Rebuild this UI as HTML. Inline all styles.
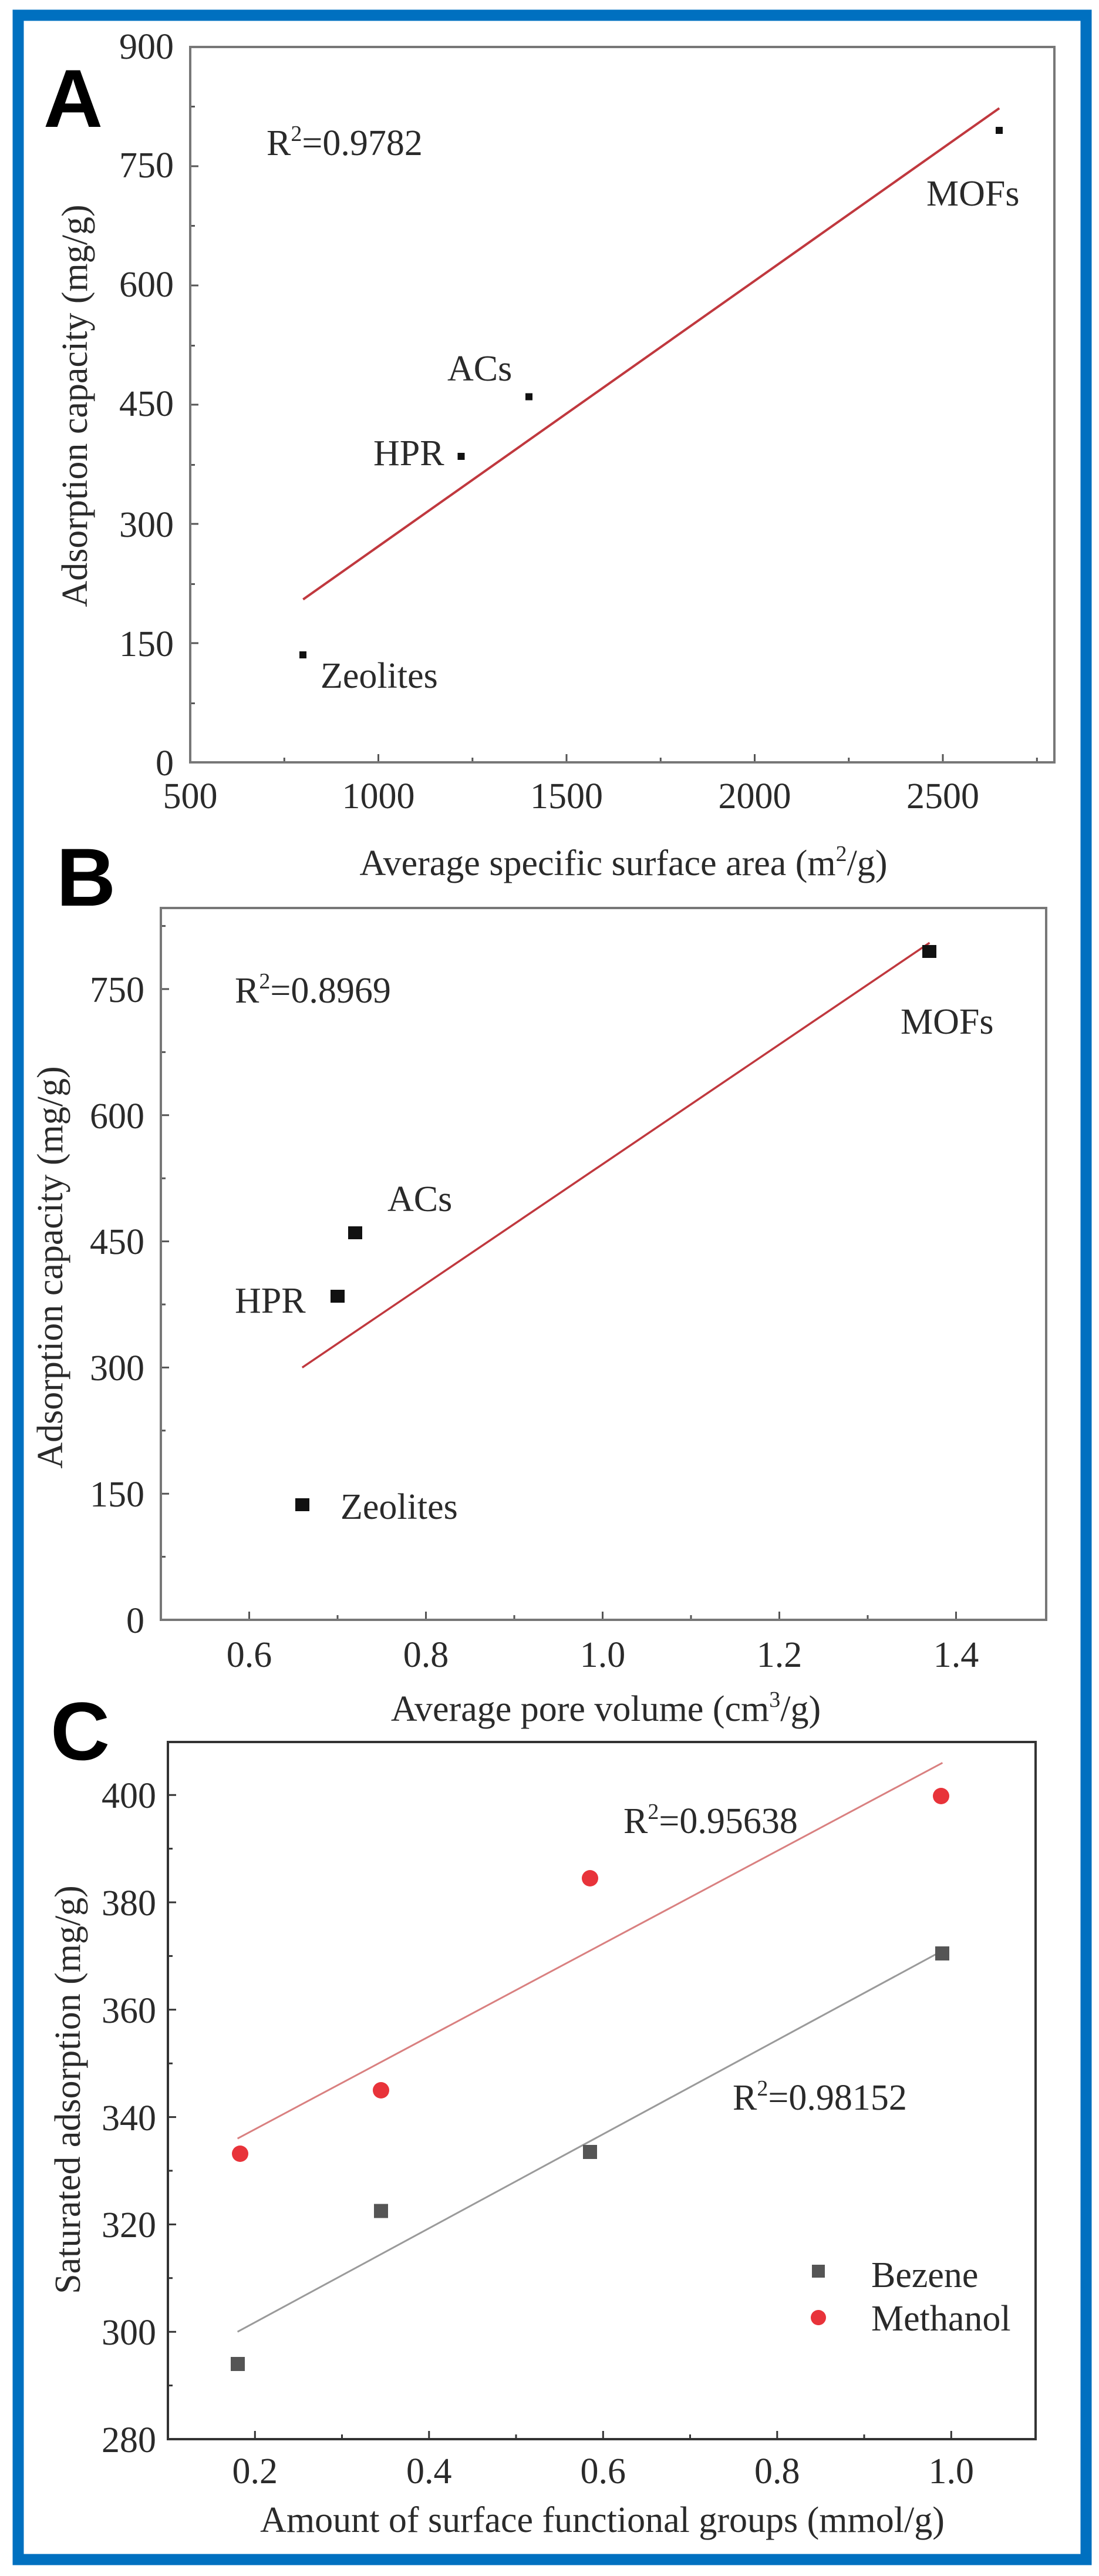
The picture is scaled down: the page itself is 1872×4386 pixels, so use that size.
<!DOCTYPE html>
<html><head><meta charset="utf-8"><style>
html,body{margin:0;padding:0;background:#fff}
svg{display:block}
text{font-family:"Liberation Serif",serif;fill:#2a2a2a}
.t{font-size:62px}
.big{font-family:"Liberation Sans",sans-serif;font-weight:bold;font-size:140px;fill:#000}
</style></head><body>
<svg width="1872" height="4386" viewBox="0 0 1872 4386" xmlns="http://www.w3.org/2000/svg">
<rect x="0" y="0" width="1872" height="4386" fill="#fff"/>
<rect x="31" y="26" width="1819" height="4332" fill="none" stroke="#0070c0" stroke-width="19"/>

<!-- ===== A ===== -->
<text class="big" x="74" y="216">A</text>
<g stroke="#555" stroke-width="3">
<path d="M324 1298v-14M484.3 1298v-8M644.5 1298v-14M804.8 1298v-8M965 1298v-14M1125.3 1298v-8M1285.5 1298v-14M1445.8 1298v-8M1606 1298v-14M1766.3 1298v-8"/>
<path d="M324 1298h14M324 1197.5h8M324 1095h14M324 994.5h8M324 892h14M324 791.5h8M324 689h14M324 588.5h8M324 486h14M324 384.5h8M324 283h14M324 181.5h8M324 80h14"/>
</g>
<rect x="324" y="80" width="1472" height="1218" fill="none" stroke="#777" stroke-width="4"/>
<g class="t" text-anchor="end">
<text x="296" y="1320">0</text><text x="296" y="1117">150</text><text x="296" y="914">300</text>
<text x="296" y="708">450</text><text x="296" y="505">600</text><text x="296" y="302">750</text><text x="296" y="100">900</text>
</g>
<g class="t" text-anchor="middle">
<text x="324" y="1376">500</text><text x="644.5" y="1376">1000</text><text x="965" y="1376">1500</text>
<text x="1285.5" y="1376">2000</text><text x="1606" y="1376">2500</text>
<text x="1062" y="1490">Average specific surface area (m<tspan dy="-24" font-size="38">2</tspan><tspan dy="24">/g)</tspan></text>
</g>
<text class="t" text-anchor="middle" transform="translate(148 691) rotate(-90)">Adsorption capacity (mg/g)</text>
<text class="t" x="454" y="264">R<tspan dy="-24" font-size="38">2</tspan><tspan dy="24">=0.9782</tspan></text>
<line x1="516.3" y1="1020.6" x2="1702.2" y2="184.2" stroke="#c0383e" stroke-width="4"/>
<g fill="#111">
<rect x="510" y="1109" width="12" height="12"/><rect x="779.5" y="771" width="12" height="12"/>
<rect x="895" y="669.5" width="12" height="12"/><rect x="1696" y="216" width="12" height="12"/>
</g>
<g class="t">
<text x="762" y="648">ACs</text><text x="636" y="792">HPR</text><text x="1578" y="350">MOFs</text><text x="546" y="1171">Zeolites</text>
</g>

<!-- ===== B ===== -->
<text class="big" x="96" y="1542">B</text>
<g stroke="#555" stroke-width="3">
<path d="M274 2758v-8M424.5 2758v-14M575 2758v-8M725.5 2758v-14M876 2758v-8M1026.5 2758v-14M1177 2758v-8M1327.5 2758v-14M1478 2758v-8M1628.5 2758v-14"/>
<path d="M274 2758h14M274 2650.6h8M274 2543.2h14M274 2435.8h8M274 2328.4h14M274 2221h8M274 2113.6h14M274 2006.2h8M274 1898.8h14M274 1791.4h8M274 1684h14M274 1576.6h8"/>
</g>
<rect x="274" y="1546" width="1508" height="1212" fill="none" stroke="#777" stroke-width="4"/>
<g class="t" text-anchor="end">
<text x="246" y="2780">0</text><text x="246" y="2565">150</text><text x="246" y="2350">300</text>
<text x="246" y="2135">450</text><text x="246" y="1921">600</text><text x="246" y="1706">750</text>
</g>
<g class="t" text-anchor="middle">
<text x="424.5" y="2838">0.6</text><text x="725.5" y="2838">0.8</text><text x="1026.5" y="2838">1.0</text>
<text x="1327.5" y="2838">1.2</text><text x="1628.5" y="2838">1.4</text>
<text x="1032" y="2930">Average pore volume (cm<tspan dy="-24" font-size="38">3</tspan><tspan dy="24">/g)</tspan></text>
</g>
<text class="t" text-anchor="middle" transform="translate(106 2158) rotate(-90)">Adsorption capacity (mg/g)</text>
<text class="t" x="400" y="1707">R<tspan dy="-24" font-size="38">2</tspan><tspan dy="24">=0.8969</tspan></text>
<line x1="514.8" y1="2328.4" x2="1583.4" y2="1605.2" stroke="#c0383e" stroke-width="3.5"/>
<g fill="#111">
<rect x="503" y="2551" width="24" height="22"/><rect x="563" y="2196" width="24" height="22"/>
<rect x="593" y="2088" width="24" height="22"/><rect x="1571" y="1609" width="24" height="22"/>
</g>
<g class="t">
<text x="660" y="2062">ACs</text><text x="400" y="2235">HPR</text><text x="1534" y="1760">MOFs</text><text x="580" y="2586">Zeolites</text>
</g>

<!-- ===== C ===== -->
<text class="big" x="86" y="2996">C</text>
<g stroke="#333" stroke-width="3">
<path d="M286 4153v-8M434.3 4153v-14M582.5 4153v-8M730.8 4153v-14M879 4153v-8M1027.3 4153v-14M1175.5 4153v-8M1323.8 4153v-14M1472 4153v-8M1620.3 4153v-14"/>
<path d="M286 4153h14M286 4061.6h8M286 3970.2h14M286 3878.8h8M286 3787.4h14M286 3696h8M286 3604.6h14M286 3513.2h8M286 3421.8h14M286 3330.4h8M286 3239h14M286 3147.6h8M286 3056.2h14"/>
</g>
<rect x="286" y="2966" width="1478" height="1187" fill="none" stroke="#333" stroke-width="4"/>
<g class="t" text-anchor="end">
<text x="266" y="4175">280</text><text x="266" y="3992">300</text><text x="266" y="3809">320</text>
<text x="266" y="3627">340</text><text x="266" y="3444">360</text><text x="266" y="3261">380</text><text x="266" y="3078">400</text>
</g>
<g class="t" text-anchor="middle">
<text x="434.3" y="4228">0.2</text><text x="730.8" y="4228">0.4</text><text x="1027.3" y="4228">0.6</text>
<text x="1323.8" y="4228">0.8</text><text x="1620.3" y="4228">1.0</text>
<text x="1026" y="4311">Amount of surface functional groups (mmol/g)</text>
</g>
<text class="t" text-anchor="middle" transform="translate(136 3558) rotate(-90)">Saturated adsorption (mg/g)</text>
<text class="t" x="1062" y="3121">R<tspan dy="-24" font-size="38">2</tspan><tspan dy="24">=0.95638</tspan></text>
<text class="t" x="1248" y="3592">R<tspan dy="-24" font-size="38">2</tspan><tspan dy="24">=0.98152</tspan></text>
<line x1="404.6" y1="3641.2" x2="1605.4" y2="3001.4" stroke="#d98080" stroke-width="3"/>
<line x1="404.6" y1="3970.2" x2="1605.4" y2="3321.3" stroke="#9a9a9a" stroke-width="3"/>
<g fill="#555">
<rect x="393" y="4013" width="24" height="24"/><rect x="637" y="3752.5" width="24" height="24"/>
<rect x="993" y="3652" width="24" height="24"/><rect x="1593" y="3314" width="24" height="24"/>
</g>
<g fill="#e8333a">
<circle cx="409" cy="3667" r="14"/><circle cx="649" cy="3559" r="14"/>
<circle cx="1005" cy="3198" r="14"/><circle cx="1603" cy="3058" r="14"/>
</g>
<rect x="1383" y="3856" width="22" height="22" fill="#555"/>
<circle cx="1394" cy="3946" r="13" fill="#e8333a"/>
<text class="t" x="1484" y="3894">Bezene</text>
<text class="t" x="1484" y="3968">Methanol</text>
</svg>
</body></html>
